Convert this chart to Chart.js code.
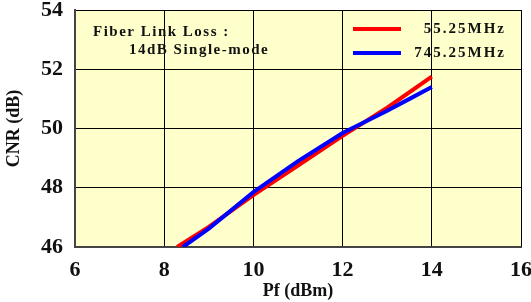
<!DOCTYPE html>
<html><head><meta charset="utf-8">
<script src="https://cdn.jsdelivr.net/npm/chart.js@4/dist/chart.umd.min.js"></script>
<style>html,body{margin:0;padding:0;background:#fff}#wrap{width:531px;height:302px}</style>
</head><body><div id="wrap"><canvas id="c" width="531" height="302"></canvas></div>
<script>
const seriesNames = ["55.25MHz", "745.25MHz"];
const redX = [8.29, 9, 10, 11, 12, 13, 14];
const redY = [46.0, 46.68, 47.75, 48.75, 49.75, 50.7, 51.75];
const blueX = [8.42, 9, 10, 11, 12, 13, 13.5, 14];
const blueY = [46.0, 46.62, 47.85, 48.9, 49.85, 50.6, 51.0, 51.4];
const xTicks = [6, 8, 10, 12, 14, 16];
const yTicks = [46, 48, 50, 52, 54];
const noteLines = ["Fiber Link Loss :", "14dB Single-mode"];
const xTitle = "Pf (dBm)";
const yTitle = "CNR (dB)";

const toPts = (xs, ys) => xs.map((x, i) => ({x, y: ys[i]}));
const serif = "'Liberation Serif','Times New Roman',serif";

const bgPlugin = {
  id: 'bg',
  beforeDraw(chart) {
    const {ctx, chartArea: a} = chart;
    ctx.save();
    ctx.fillStyle = '#FFFFCC';
    ctx.fillRect(a.left, a.top, a.right - a.left, a.bottom - a.top);
    ctx.restore();
  },
  afterDraw(chart) {
    const {ctx, chartArea: a} = chart;
    ctx.save();
    ctx.fillStyle = '#111';
    ctx.font = "bold 15px " + serif;
    ctx.textBaseline = 'middle';
    ctx.letterSpacing = '1.5px';
    ctx.textAlign = 'left';
    ctx.fillText(noteLines[0], a.left + 18, a.top + 22);
    ctx.fillText(noteLines[1], a.left + 54, a.top + 40);
    // legend
    const ds = chart.data.datasets;
    const rows = [a.top + 19, a.top + 43];
    ds.forEach((d, i) => {
      ctx.strokeStyle = d.borderColor;
      ctx.lineWidth = 4;
      ctx.beginPath();
      ctx.moveTo(353, rows[i]);
      ctx.lineTo(401, rows[i]);
      ctx.stroke();
      ctx.textAlign = 'right';
      ctx.letterSpacing = '2px';
      ctx.fillText(d.label, 506, rows[i]);
    });
    ctx.restore();
  }
};

const noPad = s => { s.paddingTop = 0; s.paddingBottom = 0; s.paddingLeft = 0; s.paddingRight = 0; };

new Chart(document.getElementById('c'), {
  type: 'line',
  data: {
    datasets: [
      {label: seriesNames[0], data: toPts(redX, redY), borderColor: '#FF0000', borderWidth: 4, pointRadius: 0, tension: 0, order: 1, fill: false},
      {label: seriesNames[1], data: toPts(blueX, blueY), borderColor: '#0000FF', borderWidth: 4, pointRadius: 0, tension: 0, order: 0, fill: false}
    ]
  },
  options: {
    responsive: false,
    animation: false,
    devicePixelRatio: 1,
    layout: {padding: {top: 10, right: 10, left: 0, bottom: 0}},
    plugins: {legend: {display: false}, tooltip: {enabled: false}},
    scales: {
      x: {
        type: 'linear', min: 6, max: 16,
        afterBuildTicks: s => { s.ticks = xTicks.map(v => ({value: v})); },
        afterFit: s => { s.height = 55; noPad(s); },
        grid: {color: '#000', lineWidth: 1, drawTicks: false},
        border: {color: '#444', width: 2},
        ticks: {color: '#111', padding: 10, font: {family: serif, size: 22, weight: 'bold'}, maxRotation: 0},
        title: {display: true, text: xTitle, color: '#111', padding: {top: 0, bottom: 0}, font: {family: serif, size: 18, weight: 'bold'}}
      },
      y: {
        type: 'linear', min: 46, max: 54,
        afterBuildTicks: s => { s.ticks = yTicks.map(v => ({value: v})); },
        afterFit: s => { s.width = 75; noPad(s); },
        grid: {color: '#000', lineWidth: 1, drawTicks: false},
        border: {color: '#444', width: 2},
        ticks: {color: '#111', padding: 12, font: {family: serif, size: 22, weight: 'bold'}},
        title: {display: true, text: yTitle, color: '#111', padding: {top: 4, bottom: 0}, font: {family: serif, size: 18, weight: 'bold'}}
      }
    }
  },
  plugins: [bgPlugin]
});
</script></body></html>
